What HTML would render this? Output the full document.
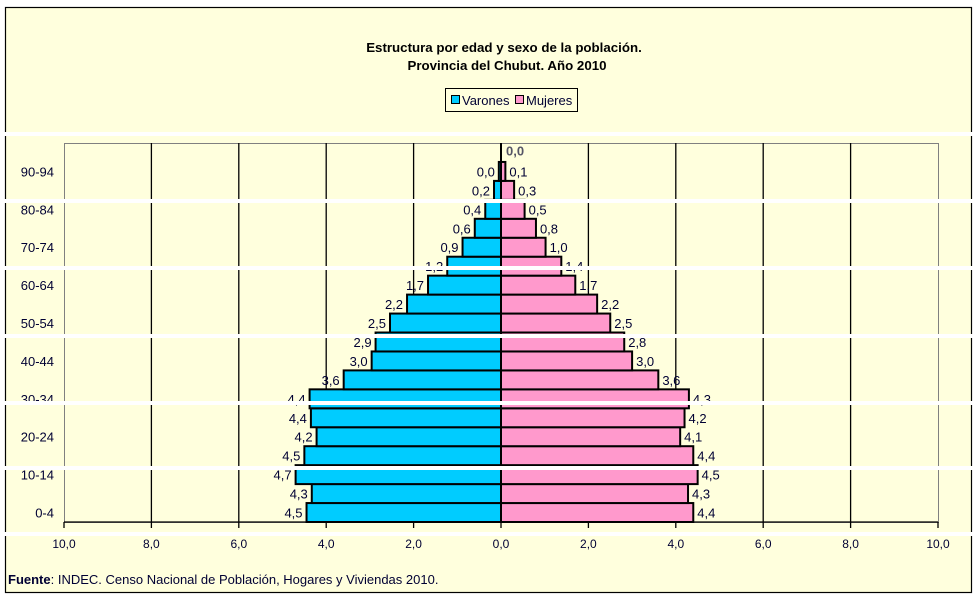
<!DOCTYPE html>
<html><head><meta charset="utf-8"><style>
html,body{margin:0;padding:0;background:#fff;width:977px;height:600px;overflow:hidden}
svg{display:block;font-family:"Liberation Sans",Arial,sans-serif}
</style></head><body>
<svg width="977" height="600" viewBox="0 0 977 600" xmlns="http://www.w3.org/2000/svg">
<rect x="5.5" y="7.5" width="966" height="585" fill="#FFFFDD" stroke="#000" stroke-width="1.2"/>
<text x="504" y="52" font-size="13.3" font-weight="bold" text-anchor="middle" fill="#000">Estructura por edad y sexo de la población.</text>
<text x="507" y="70" font-size="13.3" font-weight="bold" text-anchor="middle" fill="#000">Provincia del Chubut. Año 2010</text>
<rect x="445.5" y="88.5" width="132" height="23" fill="#FFFFDD" stroke="#000"/>
<rect x="451.5" y="95.5" width="8" height="8" fill="#00CCFF" stroke="#000"/>
<text x="462" y="105" font-size="13" fill="#000033">Varones</text>
<rect x="515.5" y="95.5" width="8" height="8" fill="#FF99CC" stroke="#000"/>
<text x="526" y="105" font-size="13" fill="#000033">Mujeres</text>
<rect x="64.5" y="143.5" width="874" height="379" fill="none" stroke="#808080"/>
<g stroke="#000" stroke-width="1.3" id="grid"></g>
<g id="bars"></g>
<g id="lbl" font-size="13" fill="#000033"></g>
<text x="8" y="584" font-size="13" fill="#000033"><tspan font-weight="bold">Fuente</tspan>: INDEC. Censo Nacional de Población, Hogares y Viviendas 2010.</text>
<g id="white" fill="#fff"></g>
</svg>
<script>
const NS="http://www.w3.org/2000/svg";
function el(p,t,a,txt){const e=document.createElementNS(NS,t);for(const k in a)e.setAttribute(k,a[k]);if(txt!==undefined)e.textContent=txt;document.getElementById(p).appendChild(e);}
const z=501,s=43.7,bot=522,rh=18.95;
for(let v=-10;v<=10;v+=2){const x=z+v*s;
 if(v!==0&&Math.abs(v)!==10)el('grid','line',{x1:x,y1:143,x2:x,y2:522});
 el('grid','line',{x1:x,y1:522,x2:x,y2:528});
 el('lbl','text',{x:x,y:548,'text-anchor':'middle','font-size':'12'},Math.abs(v).toFixed(1).replace('.',','));}
el('grid','line',{x1:64,y1:522,x2:938,y2:522});
const m=[4.45,4.33,4.7,4.5,4.22,4.35,4.38,3.6,2.96,2.87,2.54,2.15,1.67,1.23,0.88,0.6,0.36,0.16,0.05,0.0];
const f=[4.4,4.28,4.5,4.4,4.1,4.2,4.3,3.6,3.0,2.82,2.5,2.2,1.7,1.38,1.02,0.8,0.54,0.3,0.1,0.0];
const ml=["4,5","4,3","4,7","4,5","4,2","4,4","4,4","3,6","3,0","2,9","2,5","2,2","1,7","1,2","0,9","0,6","0,4","0,2","0,0","0,0"];
const fl=["4,4","4,3","4,5","4,4","4,1","4,2","4,3","3,6","3,0","2,8","2,5","2,2","1,7","1,4","1,0","0,8","0,5","0,3","0,1","0,0"];
const cats=["0-4","10-14","20-24","30-34","40-44","50-54","60-64","70-74","80-84","90-94"];
for(let i=0;i<20;i++){const y0=bot-rh*(i+1),y1=bot-rh*i,cy=(y0+y1)/2+5;
 if(i<19){const w1=m[i]*s,w2=f[i]*s;
  el('bars','rect',{x:z-w1,y:y0,width:w1,height:rh,fill:'#00CCFF',stroke:'#000','stroke-width':2});
  el('bars','rect',{x:z,y:y0,width:w2,height:rh,fill:'#FF99CC',stroke:'#000','stroke-width':2});
  el('lbl','text',{x:z-m[i]*s-4,y:cy,'text-anchor':'end'},ml[i]);
  el('lbl','text',{x:z+f[i]*s+4,y:cy},fl[i]);
 } else {el('lbl','text',{x:506,y:cy-2,fill:'#556','font-weight':'bold'},'0,0');}
 if(i%2==0)el('lbl','text',{x:54,y:cy,'text-anchor':'end'},cats[i/2]);}
el('bars','line',{x1:z,y1:143,x2:z,y2:522,stroke:'#000','stroke-width':2});
[132,199,266,334,401,466,532].forEach(y=>el('white','rect',{x:0,y:y,width:977,height:4}));
</script>
</body></html>
